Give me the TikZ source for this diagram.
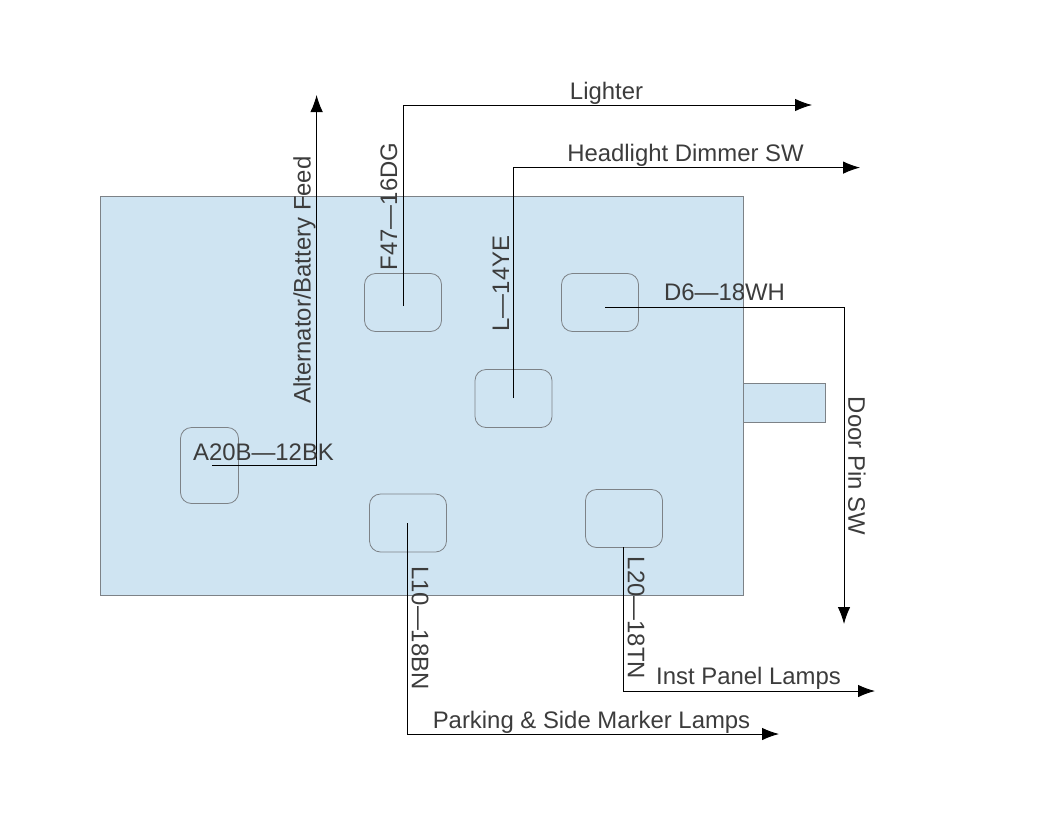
\documentclass[tikz,border=0pt]{standalone}
\usepackage{fontspec}
\setmainfont{Liberation Sans}
\usetikzlibrary{arrows.meta}
\definecolor{panelfill}{RGB}{207,228,242}
\definecolor{edgegray}{RGB}{125,130,135}
\definecolor{labelgray}{RGB}{60,60,60}
\tikzset{
  x=1pt,y=-1pt,
  panel/.style={draw=edgegray,fill=panelfill,line width=1pt,minimum width=643.5pt,minimum height=399pt,inner sep=0pt,outer sep=0pt},
  tabbox/.style={draw=edgegray,fill=panelfill,line width=1pt,minimum width=82pt,minimum height=39pt,inner sep=0pt,outer sep=0pt},
  socket/.style={draw=edgegray,line width=.8pt,rounded corners=11pt,minimum width=77pt,minimum height=58pt,inner sep=0pt,outer sep=0pt},
  socketv/.style={socket,minimum width=58pt,minimum height=76pt},
  wire/.style={draw=black,line width=.9pt,-{Latex[length=17pt,width=12.5pt]}},
  lbl/.style={font=\fontsize{23.9pt}{26pt}\selectfont,text=labelgray,inner sep=0pt},
}
\begin{document}
\begin{tikzpicture}
\useasboundingbox (0,0) rectangle (1056,816);
\node[panel] (board) at (421.75,396) {};
\node[tabbox] (tab) at (784.5,403) {};
\node[socket] (s1) at (403,302.5) {};
\node[socket] (s2) at (600,302.5) {};
\node[socket] (s3) at (513.5,398.5) {};
\node[socketv] (s4) at (209.5,465.5) {};
\node[socket] (s5) at (408,523) {};
\node[socket] (s6) at (624,518.5) {};
\coordinate (a1) at (212,465);
\coordinate (a2) at (316.6,95);
\coordinate (b1) at (403.6,306);
\coordinate (b2) at (812,105);
\coordinate (c1) at (513.6,398);
\coordinate (c2) at (860,167.6);
\coordinate (d1) at (605,307);
\coordinate (d2) at (844,624);
\coordinate (e1) at (407.6,523);
\coordinate (e2) at (779,734);
\coordinate (f1) at (623.6,547);
\coordinate (f2) at (875,691);
\draw[wire] (a1) -| (a2);
\draw[wire] (b1) |- (b2);
\draw[wire] (c1) |- (c2);
\draw[wire] (d1) -| (d2);
\draw[wire] (e1) |- (e2);
\draw[wire] (f1) |- (f2);
\node[lbl] (t1) at (304.5,280) [rotate=90] {Alternator/Battery Feed};
\node[lbl] (t2) at (263.5,452) {A20B—12BK};
\node[lbl] (t3) at (389,206.5) [rotate=90] {F47—16DG};
\node[lbl] (t4) at (606.5,93.5) {Lighter};
\node[lbl] (t5) at (501,283.5) [rotate=90] {L—14YE};
\node[lbl] (t6) at (685.5,155) {Headlight Dimmer SW};
\node[lbl] (t7) at (724.5,292.5) {D6—18WH};
\node[lbl] (t8) at (857,466) [rotate=-90] {Door Pin SW};
\node[lbl] (t9) at (420,628) [rotate=-90] {L10—18BN};
\node[lbl] (t10) at (636,618) [rotate=-90] {L20—18TN};
\node[lbl] (t11) at (748.5,678.5) {Inst Panel Lamps};
\node[lbl] (t12) at (591.5,722.5) {Parking \& Side Marker Lamps};
\end{tikzpicture}
\end{document}
